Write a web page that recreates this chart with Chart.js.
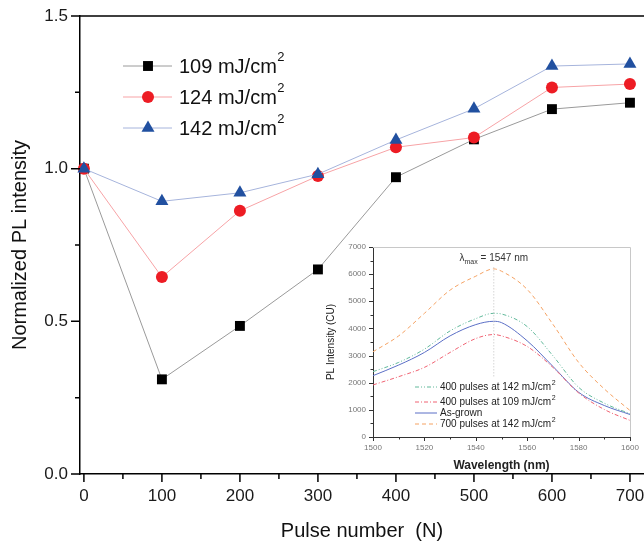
<!DOCTYPE html>
<html>
<head>
<meta charset="utf-8">
<script src="https://cdn.jsdelivr.net/npm/chart.js@4.4.1/dist/chart.umd.min.js"></script>
<style>
  body { margin: 0; background: #fff; }
  #wrap { position: relative; width: 644px; height: 545px; }
  #mainChart { position: absolute; left: 0; top: 0; }
  #insetChart { position: absolute; left: 320px; top: 232px; }
</style>
</head>
<body>
<div id="wrap">
  <canvas id="mainChart" width="644" height="545"></canvas>
  <canvas id="insetChart" width="324" height="250"></canvas>
</div>
<script>
// Normalized PL intensity vs. number of laser pulses
const pulses = [0, 100, 200, 300, 400, 500, 600, 700];
const pl109 = [1.0, 0.31, 0.485, 0.67, 0.972, 1.096, 1.195, 1.216];
const pl124 = [1.0, 0.645, 0.862, 0.976, 1.07, 1.102, 1.266, 1.277];
const pl142 = [1.0, 0.893, 0.921, 0.982, 1.094, 1.196, 1.336, 1.343];
const yTicks = [0, 0.5, 1.0, 1.5];

// PL spectra (inset)
const wavelengths = [1500, 1510, 1520, 1530, 1540, 1547, 1550, 1560, 1570, 1580, 1590, 1600];
const spec400at142 = [2407, 2749, 3237, 3909, 4361, 4557, 4532, 4068, 2993, 1832, 1246, 855];
const spec400at109 = [1918, 2223, 2565, 3115, 3628, 3775, 3726, 3335, 2565, 1625, 1014, 611];
const specAsGrown = [2260, 2651, 3115, 3726, 4141, 4263, 4214, 3543, 2602, 1649, 1160, 830];
const spec700at142 = [3140, 3726, 4556, 5411, 5925, 6193, 6108, 5436, 4153, 2749, 1771, 977];
const lambdaMax = 1547;

const FONT = 'Arial, "Liberation Sans", sans-serif';

const xy = (xs, ys) => xs.map((x, i) => ({ x: x, y: ys[i] }));

function drawMarker(ctx, style, x, y, r, color) {
  ctx.fillStyle = color;
  ctx.beginPath();
  if (style === 'rect') {
    const s = Math.SQRT1_2 * r;
    ctx.rect(x - s, y - s, 2 * s, 2 * s);
  } else if (style === 'triangle') {
    let a = 0;
    ctx.moveTo(x + Math.sin(a) * r, y - Math.cos(a) * r);
    a += 2 * Math.PI / 3;
    ctx.lineTo(x + Math.sin(a) * r, y - Math.cos(a) * r);
    a += 2 * Math.PI / 3;
    ctx.lineTo(x + Math.sin(a) * r, y - Math.cos(a) * r);
    ctx.closePath();
  } else {
    ctx.arc(x, y, r, 0, Math.PI * 2);
  }
  ctx.fill();
}

// label with a raised "2" for cm²
function drawUnitText(ctx, text, x, y, size, supSize, rise) {
  const parts = text.split('²');
  ctx.font = size + 'px ' + FONT;
  ctx.fillText(parts[0], x, y);
  if (parts.length > 1) {
    const w = ctx.measureText(parts[0]).width;
    ctx.font = supSize + 'px ' + FONT;
    ctx.fillText('2', x + w + 0.5, y - rise);
    ctx.font = size + 'px ' + FONT;
  }
}

// frame line on top plus outward major/minor ticks
const mainFrame = {
  id: 'mainFrame',
  afterDraw(chart) {
    const { ctx, chartArea: a, scales: { x, y } } = chart;
    ctx.save();
    ctx.strokeStyle = '#000';
    ctx.lineWidth = 1.5;
    ctx.beginPath();
    ctx.moveTo(a.left, a.top);
    ctx.lineTo(a.right, a.top);
    for (let v = 0; v <= 700; v += 50) {
      const px = x.getPixelForValue(v);
      ctx.moveTo(px, a.bottom);
      ctx.lineTo(px, a.bottom + (v % 100 === 0 ? 8 : 5));
    }
    for (let i = 0; i <= 6; i++) {
      const py = y.getPixelForValue(i * 0.25);
      ctx.moveTo(a.left, py);
      ctx.lineTo(a.left - (i % 2 === 0 ? 9 : 5), py);
    }
    ctx.stroke();
    ctx.restore();
  }
};

const mainKey = {
  id: 'mainKey',
  afterDraw(chart) {
    const ctx = chart.ctx;
    ctx.save();
    chart.data.datasets.forEach((ds, i) => {
      const yy = 66 + i * 31;
      ctx.strokeStyle = ds.borderColor;
      ctx.lineWidth = 1;
      ctx.beginPath();
      ctx.moveTo(123, yy);
      ctx.lineTo(172, yy);
      ctx.stroke();
      drawMarker(ctx, ds.pointStyle, 148, yy, ds.pointRadius, ds.pointBackgroundColor);
      ctx.fillStyle = '#111';
      ctx.textBaseline = 'middle';
      drawUnitText(ctx, ds.label, 179, yy + 1, 20, 13, 10);
    });
    ctx.restore();
  }
};

new Chart(document.getElementById('mainChart'), {
  type: 'line',
  data: {
    datasets: [
      { label: '109 mJ/cm²', data: xy(pulses, pl109), borderColor: '#9a9a9a', borderWidth: 1,
        pointStyle: 'rect', pointRadius: 7, pointBackgroundColor: '#000', pointBorderWidth: 0, order: 3 },
      { label: '124 mJ/cm²', data: xy(pulses, pl124), borderColor: '#f7a3a6', borderWidth: 1,
        pointStyle: 'circle', pointRadius: 6, pointBackgroundColor: '#ed1c24', pointBorderWidth: 0, order: 2 },
      { label: '142 mJ/cm²', data: xy(pulses, pl142), borderColor: '#a6b4dc', borderWidth: 1,
        pointStyle: 'triangle', pointRadius: 7.5, pointBackgroundColor: '#2150a0', pointBorderWidth: 0, order: 1 }
    ]
  },
  options: {
    responsive: false,
    animation: false,
    clip: false,
    layout: { autoPadding: false, padding: { top: 16, left: 0, right: 0, bottom: 0 } },
    plugins: { legend: { display: false }, tooltip: { enabled: false } },
    elements: { line: { tension: 0 } },
    scales: {
      x: {
        type: 'linear', min: -5, max: 718,
        afterBuildTicks: s => { s.ticks = pulses.map(v => ({ value: v })); },
        afterFit: s => { s.height = 71; s.paddingLeft = 0; s.paddingRight = 0; },
        grid: { display: false, drawTicks: false },
        border: { display: true, color: '#000', width: 1.5 },
        ticks: { color: '#1a1a1a', font: { family: FONT, size: 17 }, padding: 12, maxRotation: 0,
                 callback: v => String(v) },
        title: { display: true, text: 'Pulse number  (N)', color: '#111',
                 font: { family: FONT, size: 20 }, padding: { top: 0, bottom: 2 } }
      },
      y: {
        type: 'linear', min: 0, max: 1.5,
        afterBuildTicks: s => { s.ticks = yTicks.map(v => ({ value: v })); },
        afterFit: s => { s.width = 80; s.paddingTop = 0; s.paddingBottom = 0; },
        grid: { display: false, drawTicks: false },
        border: { display: true, color: '#000', width: 1.5 },
        ticks: { color: '#1a1a1a', font: { family: FONT, size: 17 }, padding: 12,
                 callback: v => v.toFixed(1) },
        title: { display: true, text: 'Normalized PL intensity', color: '#111',
                 font: { family: FONT, size: 20 }, padding: { top: 8, bottom: 0 } }
      }
    }
  },
  plugins: [mainFrame, mainKey]
});

// ---- inset: PL spectra ----
const insetFrame = {
  id: 'insetFrame',
  afterDraw(chart) {
    const { ctx, chartArea: a, scales: { x, y } } = chart;
    ctx.save();
    ctx.lineWidth = 1;
    ctx.strokeStyle = '#c8c8c8';
    ctx.beginPath();
    ctx.moveTo(a.left, a.top + 0.5);
    ctx.lineTo(a.right + 0.5, a.top + 0.5);
    ctx.lineTo(a.right + 0.5, a.bottom);
    ctx.stroke();

    ctx.strokeStyle = '#333';
    ctx.beginPath();
    for (let v = 1500; v <= 1600; v += 10) {
      const px = Math.round(x.getPixelForValue(v)) + 0.5;
      ctx.moveTo(px, a.bottom);
      ctx.lineTo(px, a.bottom + (v % 20 === 0 ? 4 : 2.5));
    }
    for (let v = 0; v <= 7000; v += 500) {
      const py = Math.round(y.getPixelForValue(v)) + 0.5;
      ctx.moveTo(a.left, py);
      ctx.lineTo(a.left - (v % 1000 === 0 ? 4 : 2.5), py);
    }
    ctx.stroke();

    // peak marker
    const lx = x.getPixelForValue(lambdaMax);
    ctx.strokeStyle = '#c0c0c0';
    ctx.setLineDash([1, 2]);
    ctx.beginPath();
    ctx.moveTo(lx, y.getPixelForValue(6250));
    ctx.lineTo(lx, y.getPixelForValue(2200));
    ctx.stroke();
    ctx.setLineDash([]);

    ctx.fillStyle = '#333';
    ctx.textBaseline = 'alphabetic';
    ctx.font = '10px ' + FONT;
    const w1 = ctx.measureText('λ').width;
    ctx.font = '7px ' + FONT;
    const w2 = ctx.measureText('max').width;
    ctx.font = '10px ' + FONT;
    const rest = ' = ' + lambdaMax + ' nm';
    const w3 = ctx.measureText(rest).width;
    const tx = lx - (w1 + w2 + w3) / 2;
    const ty = a.top + 14;
    ctx.fillText('λ', tx, ty);
    ctx.font = '7px ' + FONT;
    ctx.fillText('max', tx + w1, ty + 3);
    ctx.font = '10px ' + FONT;
    ctx.fillText(rest, tx + w1 + w2, ty);
    ctx.restore();
  }
};

const insetKey = {
  id: 'insetKey',
  afterDraw(chart) {
    const ctx = chart.ctx;
    const rows = [155, 170, 181, 192];
    ctx.save();
    chart.data.datasets.forEach((ds, i) => {
      const yy = rows[i];
      ctx.strokeStyle = ds.borderColor;
      ctx.lineWidth = 1;
      ctx.setLineDash(ds.borderDash || []);
      ctx.beginPath();
      ctx.moveTo(95, yy);
      ctx.lineTo(117, yy);
      ctx.stroke();
      ctx.setLineDash([]);
      ctx.fillStyle = '#222';
      ctx.textBaseline = 'middle';
      drawUnitText(ctx, ds.label, 120, yy, 10, 7, 4);
    });
    ctx.restore();
  }
};

new Chart(document.getElementById('insetChart'), {
  type: 'line',
  data: {
    datasets: [
      { label: '400 pulses at 142 mJ/cm²', data: xy(wavelengths, spec400at142), borderColor: '#62b99b',
        borderWidth: 1, borderDash: [4, 2, 1, 2, 1, 2] },
      { label: '400 pulses at 109 mJ/cm²', data: xy(wavelengths, spec400at109), borderColor: '#f06272',
        borderWidth: 1, borderDash: [4, 2, 1, 2] },
      { label: 'As-grown', data: xy(wavelengths, specAsGrown), borderColor: '#5b6fc6', borderWidth: 1 },
      { label: '700 pulses at 142 mJ/cm²', data: xy(wavelengths, spec700at142), borderColor: '#f5a263',
        borderWidth: 1, borderDash: [4, 3] }
    ]
  },
  options: {
    responsive: false,
    animation: false,
    layout: { autoPadding: false, padding: { top: 15, right: 14, left: 0, bottom: 0 } },
    plugins: { legend: { display: false }, tooltip: { enabled: false } },
    elements: { point: { radius: 0 }, line: { cubicInterpolationMode: 'monotone' } },
    scales: {
      x: {
        type: 'linear', min: 1500, max: 1600,
        afterFit: s => { s.height = 45; s.paddingLeft = 0; s.paddingRight = 0; },
        grid: { display: false, drawTicks: false },
        border: { display: true, color: '#333', width: 1 },
        ticks: { stepSize: 20, color: '#777', font: { family: FONT, size: 8 }, padding: 6,
                 maxRotation: 0, callback: v => String(v) },
        title: { display: true, text: 'Wavelength (nm)', color: '#222',
                 font: { family: FONT, size: 12, weight: 'bold' }, padding: { top: 0, bottom: 9 } }
      },
      y: {
        type: 'linear', min: 0, max: 7000,
        afterFit: s => { s.width = 53; s.paddingTop = 0; s.paddingBottom = 0; },
        grid: { display: false, drawTicks: false },
        border: { display: true, color: '#333', width: 1 },
        ticks: { stepSize: 1000, color: '#777', font: { family: FONT, size: 8 }, padding: 7,
                 callback: v => String(v) },
        title: { display: true, text: 'PL Intensity (CU)', color: '#222',
                 font: { family: FONT, size: 10 }, padding: { top: 5, bottom: 0 } }
      }
    }
  },
  plugins: [insetFrame, insetKey]
});
</script>
</body>
</html>
